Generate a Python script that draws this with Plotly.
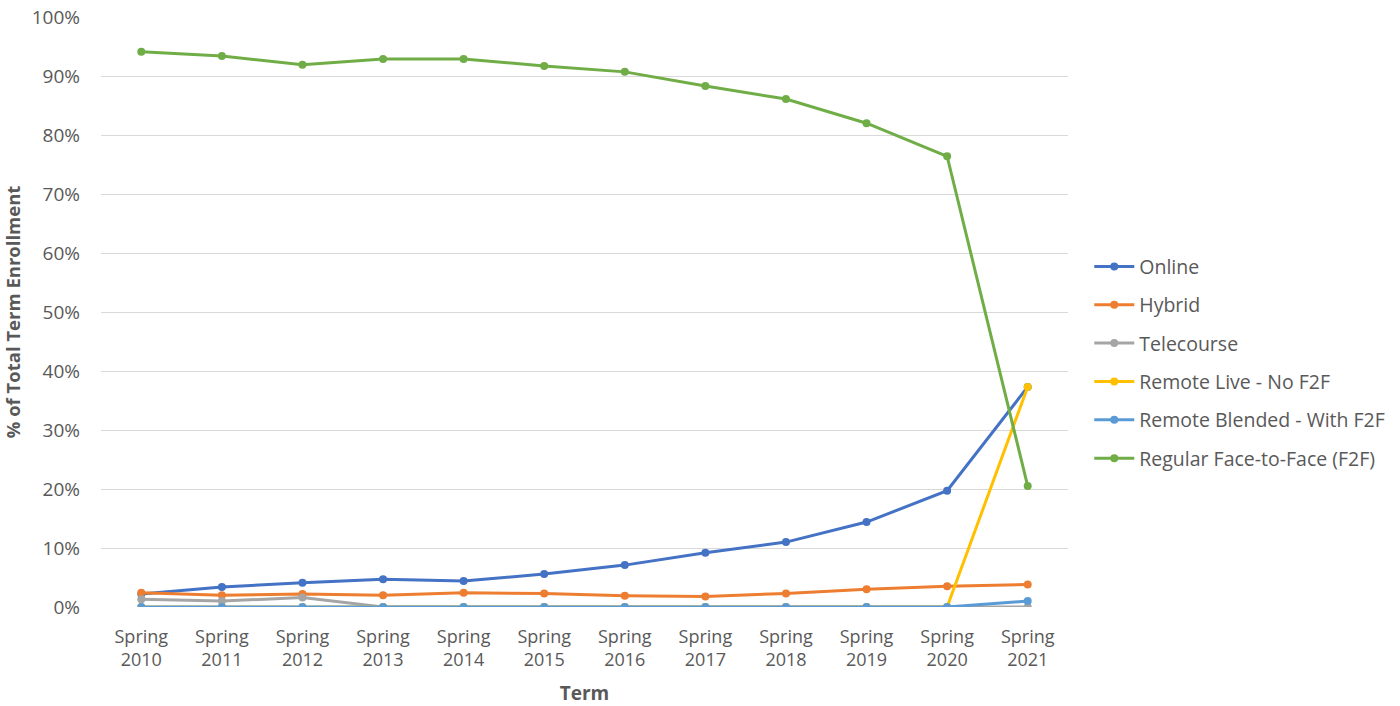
import plotly.graph_objects as go

terms = ["Spring<br>2010", "Spring<br>2011", "Spring<br>2012", "Spring<br>2013", "Spring<br>2014",
         "Spring<br>2015", "Spring<br>2016", "Spring<br>2017", "Spring<br>2018", "Spring<br>2019",
         "Spring<br>2020", "Spring<br>2021"]

online = [2.2, 3.4, 4.1, 4.7, 4.4, 5.6, 7.1, 9.2, 11.0, 14.4, 19.7, 37.3]
hybrid = [2.4, 2.0, 2.2, 2.0, 2.4, 2.3, 1.9, 1.8, 2.3, 3.0, 3.5, 3.8]
telecourse = [1.3, 1.0, 1.6, 0, 0, 0, 0, 0, 0, 0, 0, 0]
remote_live = [0, 0, 0, 0, 0, 0, 0, 0, 0, 0, 0, 37.3]
remote_blended = [0, 0, 0, 0, 0, 0, 0, 0, 0, 0, 0, 1.0]
face_to_face = [94.1, 93.4, 91.9, 92.9, 92.9, 91.7, 90.7, 88.3, 86.1, 82.0, 76.4, 20.5]

series = [
    ("Online", online, "#4472C4"),
    ("Hybrid", hybrid, "#ED7D31"),
    ("Telecourse", telecourse, "#A5A5A5"),
    ("Remote Live - No F2F", remote_live, "#FFC000"),
    ("Remote Blended - With F2F", remote_blended, "#5B9BD5"),
    ("Regular Face-to-Face (F2F)", face_to_face, "#70AD47"),
]

FONT = "'Open Sans', Lato, sans-serif"
TEXT = "#595959"

fig = go.Figure()
for i, (name, vals, color) in enumerate(series):
    fig.add_trace(go.Scatter(
        x=terms, y=[v / 100 for v in vals], name=name, mode="lines+markers",
        line=dict(color=color, width=3), marker=dict(color=color, size=8),
        legendgroup=f"g{i}",
    ))

fig.update_layout(
    width=1400, height=706,
    margin=dict(l=101, r=332, t=17, b=99, autoexpand=False),
    paper_bgcolor="white", plot_bgcolor="white",
    font=dict(family=FONT, color=TEXT, size=18),
    showlegend=True,
    legend=dict(x=1.022, y=0.414, xanchor="left", yanchor="middle",
                font=dict(size=19.5, color=TEXT), tracegroupgap=10,
                itemwidth=40, bgcolor="rgba(0,0,0,0)"),
    xaxis=dict(
        type="category", range=[-0.5, 11.5], showgrid=False, showline=False,
        ticks="", tickfont=dict(size=18, color=TEXT), automargin=False,
        ticklabelstandoff=17,
        title=dict(text="<b>Term</b>", font=dict(size=19, color=TEXT), standoff=26),
        zeroline=False,
    ),
    yaxis=dict(
        range=[0, 1.0], tickformat=".0%", dtick=0.1, showgrid=True,
        gridcolor="#D9D9D9", gridwidth=1, zeroline=False, showline=False,
        tickfont=dict(size=19, color=TEXT), automargin=False,
        ticklabelstandoff=20,
        title=dict(text="<b>% of Total Term Enrollment</b>", font=dict(size=18.5, color=TEXT), standoff=8),
    ),
)

fig.write_html("out.html")
